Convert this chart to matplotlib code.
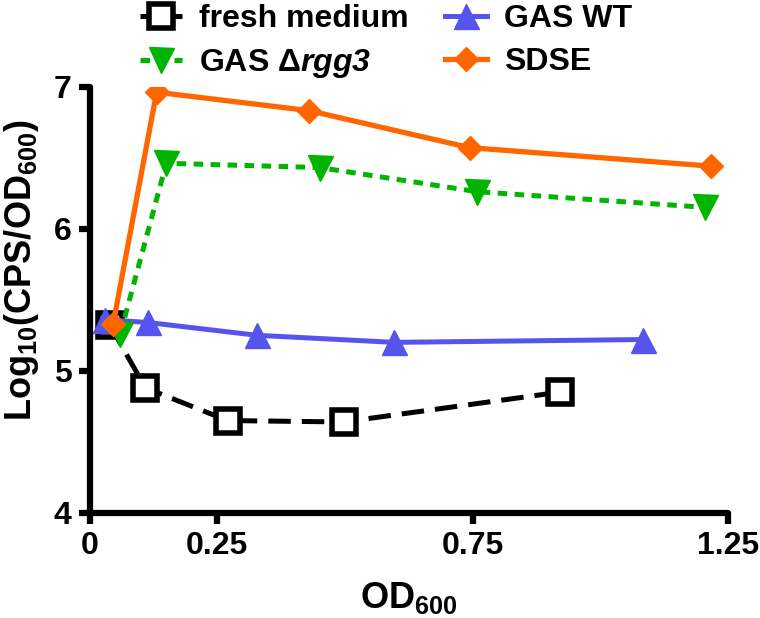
import matplotlib
matplotlib.use("Agg")
import matplotlib.pyplot as plt

plt.rcParams['font.family'] = ['Liberation Sans', 'DejaVu Sans']
plt.rcParams['font.weight'] = 'bold'
plt.rcParams['mathtext.fontset'] = 'custom'
plt.rcParams['mathtext.rm'] = 'Liberation Sans:bold'
plt.rcParams['mathtext.bf'] = 'Liberation Sans:bold'
plt.rcParams['mathtext.sf'] = 'Liberation Sans:bold:italic'
plt.rcParams['mathtext.default'] = 'bf'

# Data
fresh_x = [0.040, 0.109, 0.270, 0.497, 0.921]
fresh_y = [5.32, 4.88, 4.65, 4.64, 4.85]

wt_x = [0.030, 0.114, 0.327, 0.596, 1.083]
wt_y = [5.36, 5.34, 5.25, 5.20, 5.22]

rgg3_x = [0.060, 0.150, 0.450, 0.759, 1.204]
rgg3_y = [5.26, 6.46, 6.43, 6.26, 6.15]

sdse_x = [0.046, 0.131, 0.430, 0.744, 1.216]
sdse_y = [5.33, 6.96, 6.83, 6.57, 6.44]

xticks = [0, 0.25, 0.75, 1.25]
xtick_labels = ['0', '0.25', '0.75', '1.25']
yticks = [4, 5, 6, 7]

fig = plt.figure(figsize=(7.6, 6.18), dpi=100)
ax = fig.add_axes([0.118, 0.170, 0.840, 0.690])

l_fresh, = ax.plot(fresh_x, fresh_y, color='black', lw=3.6, dashes=(4.5, 2.2),
                   marker='s', ms=17, mfc='white', mec='black', mew=4, label='fresh medium')
l_wt, = ax.plot(wt_x, wt_y, color='#5555ee', lw=3.6, marker='^', ms=18,
                mec='#5555ee', label='GAS WT')
l_rgg3, = ax.plot(rgg3_x, rgg3_y, color='#00b400', lw=3.6, dashes=(1.9, 1.5),
                  marker='v', ms=18, mec='#00b400', label='GAS Δ$\\mathsf{rgg3}$')
l_sdse, = ax.plot(sdse_x, sdse_y, color='#ff6600', lw=3.8, marker='D', ms=12.5,
                  mec='#ff6600', label='SDSE')

ax.set_xlim(0, 1.25)
ax.set_ylim(4, 7)
ax.set_xticks(xticks)
ax.set_xticklabels(xtick_labels)
ax.set_yticks(yticks)
ax.tick_params(labelsize=23, width=4.5, length=8, pad=5)
for s in ['top', 'right']:
    ax.spines[s].set_visible(False)
for s in ['left', 'bottom']:
    ax.spines[s].set_linewidth(4.5)
    ax.spines[s].set_capstyle('round')
for lab in ax.get_xticklabels() + ax.get_yticklabels():
    lab.set_fontweight('bold')

ax.set_xlabel('OD$_{600}$', fontsize=26, fontweight='bold', labelpad=14)
ax.set_ylabel('Log$_{10}$(CPS/OD$_{600}$)', fontsize=26, fontweight='bold')
ax.yaxis.set_label_coords(-0.077, 0.569)

# two legend columns placed separately
leg_kw = dict(loc='upper left', frameon=False, fontsize=23, handlelength=1.3,
              handletextpad=0.55, labelspacing=0.4, borderpad=0, borderaxespad=0)
fig.legend(handles=[l_fresh, l_rgg3], bbox_to_anchor=(140 / 760, 0.993), **leg_kw)
fig.legend(handles=[l_wt, l_sdse], bbox_to_anchor=(445 / 760, 0.993), **leg_kw)

fig.savefig('out.png', dpi=100)
